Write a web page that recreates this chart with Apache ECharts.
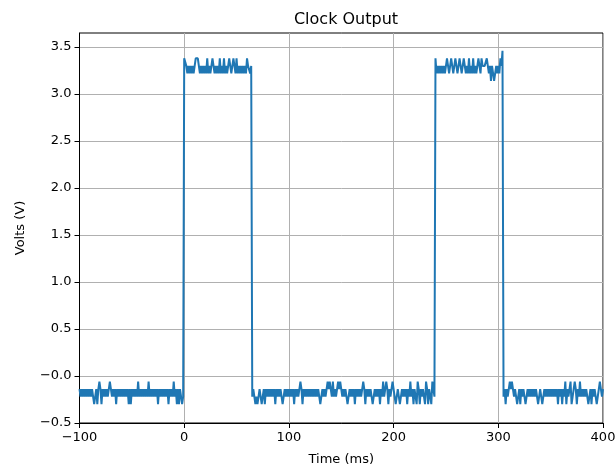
<!DOCTYPE html>
<html>
<head>
<meta charset="utf-8">
<script src="https://cdn.jsdelivr.net/npm/echarts@6/dist/echarts.min.js"></script>
<style>
  html, body { margin: 0; padding: 0; background: #ffffff; }
  #chart { width: 616px; height: 470px; }
</style>
</head>
<body>
<div id="chart"></div>
<script>
// Sampled clock signal, 1 ms per sample, starting at -100 ms.
const sampleStartMs = -100;
const samplePeriodMs = 1;

// -100 .. -1 ms (low)
const lowBefore = [
  -0.14,-0.22,-0.14,-0.22,-0.14,-0.22,-0.14,-0.22,-0.14,-0.22,
  -0.14,-0.22,-0.14,-0.22,-0.30,-0.22,-0.14,-0.30,-0.14,-0.06,
  -0.14,-0.30,-0.14,-0.22,-0.14,-0.22,-0.14,-0.22,-0.14,-0.06,
  -0.14,-0.22,-0.14,-0.22,-0.14,-0.30,-0.14,-0.22,-0.14,-0.22,
  -0.14,-0.22,-0.14,-0.22,-0.14,-0.22,-0.14,-0.30,-0.14,-0.30,
  -0.14,-0.22,-0.14,-0.22,-0.14,-0.22,-0.06,-0.22,-0.14,-0.22,
  -0.14,-0.22,-0.14,-0.22,-0.14,-0.22,-0.06,-0.22,-0.14,-0.22,
  -0.14,-0.22,-0.14,-0.22,-0.14,-0.30,-0.14,-0.22,-0.14,-0.22,
  -0.14,-0.22,-0.14,-0.22,-0.14,-0.30,-0.14,-0.22,-0.14,-0.22,
  -0.06,-0.22,-0.14,-0.30,-0.14,-0.30,-0.14,-0.22,-0.30,-0.22
];

// 0 .. 64 ms (high)
const firstHigh = [
  3.38,3.38,3.30,3.22,3.30,3.22,3.30,3.22,3.30,3.22,
  3.30,3.38,3.38,3.38,3.30,3.22,3.30,3.22,3.30,3.22,
  3.30,3.22,3.38,3.22,3.30,3.22,3.30,3.38,3.30,3.22,
  3.30,3.22,3.30,3.22,3.38,3.22,3.30,3.22,3.38,3.22,
  3.30,3.22,3.30,3.38,3.30,3.22,3.30,3.38,3.30,3.22,
  3.38,3.22,3.30,3.22,3.30,3.22,3.30,3.22,3.30,3.22,
  3.38,3.30,3.30,3.22,3.30
];

// 65 .. 239 ms (low)
const lowBetween = [
  -0.22,-0.14,-0.22,-0.30,-0.22,
  -0.30,-0.22,-0.14,-0.22,-0.30,-0.22,-0.14,-0.30,-0.14,-0.22,
  -0.14,-0.22,-0.14,-0.22,-0.14,-0.22,-0.14,-0.30,-0.14,-0.22,
  -0.14,-0.22,-0.14,-0.22,-0.30,-0.22,-0.14,-0.22,-0.14,-0.22,
  -0.14,-0.22,-0.14,-0.22,-0.14,-0.30,-0.14,-0.22,-0.14,-0.22,
  -0.14,-0.06,-0.14,-0.30,-0.14,-0.22,-0.14,-0.22,-0.14,-0.22,
  -0.14,-0.22,-0.14,-0.22,-0.14,-0.22,-0.14,-0.22,-0.14,-0.22,
  -0.30,-0.22,-0.14,-0.22,-0.14,-0.22,-0.14,-0.06,-0.14,-0.06,
  -0.14,-0.22,-0.06,-0.22,-0.14,-0.22,-0.14,-0.06,-0.14,-0.06,
  -0.14,-0.22,-0.14,-0.22,-0.14,-0.22,-0.30,-0.22,-0.14,-0.22,
  -0.14,-0.22,-0.14,-0.30,-0.14,-0.22,-0.14,-0.22,-0.14,-0.22,
  -0.14,-0.06,-0.14,-0.30,-0.14,-0.22,-0.14,-0.22,-0.14,-0.22,
  -0.30,-0.22,-0.14,-0.22,-0.14,-0.22,-0.14,-0.30,-0.14,-0.22,
  -0.06,-0.22,-0.14,-0.06,-0.14,-0.30,-0.14,-0.22,-0.14,-0.06,
  -0.14,-0.22,-0.30,-0.22,-0.14,-0.22,-0.30,-0.22,-0.14,-0.22,
  -0.14,-0.22,-0.14,-0.30,-0.14,-0.22,-0.06,-0.22,-0.14,-0.30,
  -0.14,-0.22,-0.30,-0.06,-0.14,-0.30,-0.14,-0.22,-0.14,-0.22,
  -0.30,-0.06,-0.14,-0.30,-0.14,-0.22,-0.30,-0.06,-0.14,-0.22
];

// 240 .. 304 ms (high)
const secondHigh = [
  3.38,3.22,3.30,3.22,3.30,3.22,3.30,3.22,3.30,3.22,
  3.30,3.38,3.30,3.22,3.30,3.38,3.38,3.22,3.30,3.38,
  3.30,3.22,3.30,3.38,3.30,3.22,3.30,3.38,3.30,3.22,
  3.30,3.22,3.38,3.22,3.30,3.22,3.38,3.22,3.30,3.22,
  3.30,3.38,3.30,3.22,3.38,3.30,3.30,3.30,3.30,3.38,
  3.30,3.22,3.30,3.14,3.30,3.22,3.14,3.22,3.30,3.22,
  3.30,3.22,3.38,3.30,3.46
];

// 305 .. 400 ms (low)
const lowAfter = [
  -0.22,-0.14,-0.30,-0.14,-0.22,
  -0.14,-0.06,-0.14,-0.06,-0.14,-0.22,-0.14,-0.22,-0.30,-0.22,
  -0.14,-0.30,-0.14,-0.22,-0.14,-0.22,-0.30,-0.22,-0.14,-0.22,
  -0.14,-0.22,-0.14,-0.22,-0.14,-0.22,-0.14,-0.22,-0.30,-0.22,
  -0.14,-0.22,-0.30,-0.22,-0.14,-0.22,-0.14,-0.22,-0.14,-0.22,
  -0.14,-0.22,-0.14,-0.22,-0.14,-0.22,-0.14,-0.30,-0.14,-0.22,
  -0.14,-0.30,-0.14,-0.22,-0.06,-0.30,-0.14,-0.22,-0.14,-0.06,
  -0.30,-0.22,-0.14,-0.06,-0.14,-0.30,-0.14,-0.22,-0.06,-0.22,
  -0.14,-0.22,-0.14,-0.22,-0.14,-0.22,-0.30,-0.22,-0.14,-0.30,
  -0.14,-0.22,-0.14,-0.22,-0.30,-0.22,-0.14,-0.06,-0.14,-0.22,
  -0.14
];

const xTicks = [-100, 0, 100, 200, 300, 400];
const yTicks = [-0.5, 0.0, 0.5, 1.0, 1.5, 2.0, 2.5, 3.0, 3.5];
const yTickLabels = ['\u22120.5', '\u22120.0', '0.5', '1.0', '1.5', '2.0', '2.5', '3.0', '3.5'];

const volts = [].concat(lowBefore, firstHigh, lowBetween, secondHigh, lowAfter);
const points = volts.map((v, i) => [sampleStartMs + i * samplePeriodMs, v]);

const FONT = 'DejaVu Sans';
const fmtX = v => (v < 0 ? '\u2212' + Math.abs(v) : String(v));
const fmtY = v => {
  const k = yTicks.findIndex(t => Math.abs(t - v) < 1e-9);
  return k >= 0 ? yTickLabels[k] : '';
};

const chart = echarts.init(document.getElementById('chart'), null, { renderer: 'canvas' });
chart.setOption({
  animation: false,
  backgroundColor: '#ffffff',
  title: {
    text: 'Clock Output',
    left: 341,
    top: 7,
    textAlign: 'center',
    textStyle: { fontFamily: FONT, fontSize: 16, fontWeight: 'normal', color: '#000000' }
  },
  grid: {
    left: 79.5, right: 13, top: 33, bottom: 47,
    outerBoundsMode: 'none',
    containLabel: false,
    show: true, borderColor: '#000000', borderWidth: 1, backgroundColor: 'transparent'
  },
  xAxis: {
    type: 'value',
    min: -100, max: 400, interval: 100,
    name: 'Time (ms)',
    nameLocation: 'middle',
    nameGap: 30,
    nameTextStyle: { fontFamily: FONT, fontSize: 13, color: '#000000' },
    axisLine: { show: true, onZero: false, lineStyle: { color: '#000000', width: 1 } },
    axisTick: { show: true, inside: false, length: 5, customValues: xTicks, lineStyle: { color: '#000000', width: 1 } },
    axisLabel: { customValues: xTicks, formatter: fmtX, margin: 8, fontFamily: FONT, fontSize: 13, color: '#000000' },
    splitLine: { show: true, lineStyle: { color: '#b0b0b0', width: 1 } }
  },
  yAxis: {
    type: 'value',
    min: -0.5, max: 3.65, interval: 0.5,
    name: 'Volts (V)',
    nameLocation: 'middle',
    nameRotate: 90,
    nameGap: 52,
    nameTextStyle: { fontFamily: FONT, fontSize: 13, color: '#000000' },
    axisLine: { show: true, onZero: false, lineStyle: { color: '#000000', width: 1 } },
    axisTick: { show: true, inside: false, length: 5, customValues: yTicks, lineStyle: { color: '#000000', width: 1 } },
    axisLabel: { customValues: yTicks, formatter: fmtY, margin: 8, fontFamily: FONT, fontSize: 13, color: '#000000' },
    splitLine: { show: true, lineStyle: { color: '#b0b0b0', width: 1 } }
  },
  series: [{
    type: 'line',
    data: points,
    showSymbol: false,
    symbol: 'none',
    clip: true,
    lineStyle: { color: '#1f77b4', width: 2 },
    emphasis: { disabled: true }
  }]
});
</script>
</body>
</html>
